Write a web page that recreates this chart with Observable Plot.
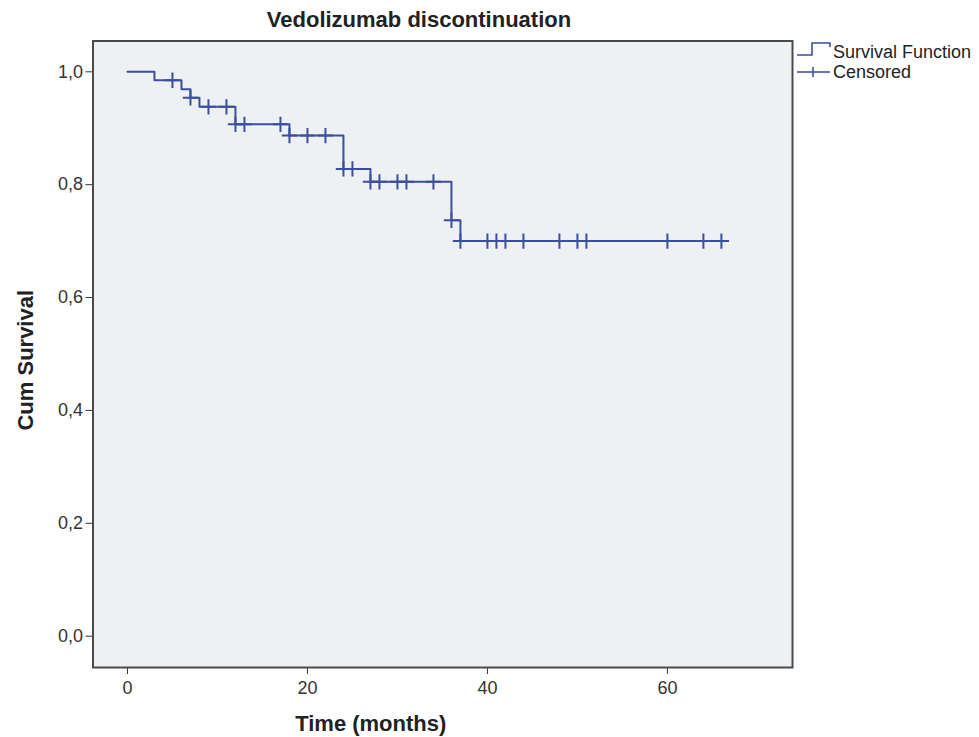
<!DOCTYPE html>
<html><head><meta charset="utf-8">
<script src="https://cdn.jsdelivr.net/npm/d3@7"></script>
<script src="https://cdn.jsdelivr.net/npm/@observablehq/plot@0.6"></script>
<style>
body{margin:0;background:#fff;font-family:"Liberation Sans",Arial,sans-serif;}
#wrap{position:relative;width:979px;height:737px;}
#title{position:absolute;left:0;width:838px;top:7px;text-align:center;font-weight:bold;font-size:22px;line-height:26px;color:#222;}
.leg{position:absolute;left:833px;font-size:18px;line-height:20px;color:#222;white-space:nowrap;}
#legicon{position:absolute;left:796px;top:40px;}
</style></head>
<body><div id="wrap"><div id="chart"></div>
<div id="title">Vedolizumab discontinuation</div>
<svg id="legicon" width="40" height="42"><path d="M1 15H16V3H34V7" fill="none" stroke="#3c4e9e" stroke-width="1.6"/><path d="M1 32H34M17 27V37" fill="none" stroke="#3c4e9e" stroke-width="1.6"/></svg>
<div class="leg" style="top:42px">Survival Function</div>
<div class="leg" style="top:62px">Censored</div>
</div>
<script>
const eventTimes = [0, 3, 6, 7, 8, 12, 18, 24, 27, 36, 37];
const survival = [1, 0.985, 0.969, 0.954, 0.938, 0.907, 0.887, 0.828, 0.805, 0.737, 0.700];
const censorTimes = [5, 7, 9, 11, 12, 13, 17, 18, 20, 22, 24, 25, 27, 28, 30, 31, 34, 36, 37, 40, 41, 42, 44, 48, 50, 51, 60, 64, 66];
const xTicks = [0, 20, 40, 60];
const yTicks = [0, 0.2, 0.4, 0.6, 0.8, 1.0];

const stepData = eventTimes.map((t, i) => ({t, s: survival[i]}));
stepData.push({t: d3.max(censorTimes), s: survival[survival.length - 1]});
const survAt = t => survival[d3.bisectRight(eventTimes, t) - 1];
const censored = censorTimes.map(t => ({t, s: survAt(t)}));
const blue = "#3c4e9e";

const chart = Plot.plot({
  width: 979, height: 737,
  marginLeft: 92.5, marginRight: 187, marginTop: 40.5, marginBottom: 70,
  style: {fontFamily: "'Liberation Sans', Arial, sans-serif", fontSize: "18px", color: "#333", background: "transparent"},
  x: {domain: [-3.83, 73.9], ticks: xTicks, tickSize: 7, tickPadding: 7, label: null},
  y: {domain: [-0.0555, 1.0546], ticks: yTicks, tickSize: 7, tickPadding: 3, tickFormat: d => d.toFixed(1).replace(".", ","), label: null},
  marks: [
    Plot.frame({fill: "#eef1f4", stroke: null}),
    Plot.line(stepData, {x: "t", y: "s", curve: "step-after", stroke: blue, strokeWidth: 2}),
    Plot.dot(censored, {x: "t", y: "s", symbol: "plus", r: 5, stroke: blue, strokeWidth: 2}),
    Plot.frame({stroke: "#4a4a4a", strokeWidth: 2}),
    Plot.text(["Time (months)"], {text: d => d, frameAnchor: "bottom", lineAnchor: "middle", textAnchor: "middle", dy: 56, dx: -72, fontWeight: "bold", fontSize: 22, fill: "#222"}),
    Plot.text(["Cum Survival"], {text: d => d, frameAnchor: "left", lineAnchor: "middle", textAnchor: "middle", rotate: -90, dx: -67.5, dy: 6, fontWeight: "bold", fontSize: 22, fill: "#222"})
  ]
});
document.getElementById("chart").appendChild(chart);
</script>
</body></html>
